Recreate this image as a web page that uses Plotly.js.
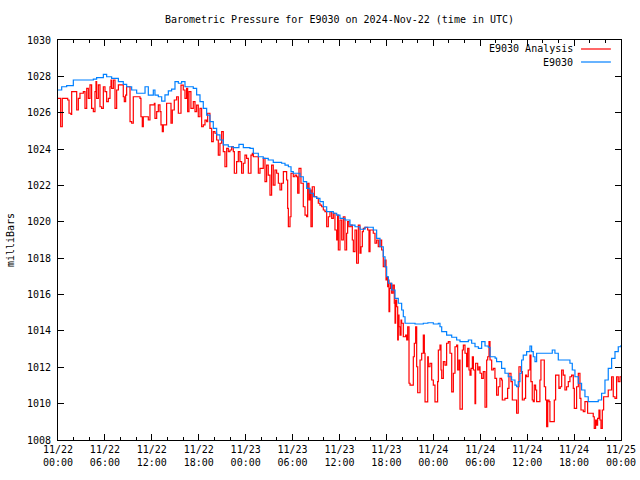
<!DOCTYPE html>
<html>
<head>
<meta charset="utf-8">
<script src="https://cdn.plot.ly/plotly-3.0.1.min.js"></script>
<style>html,body{margin:0;padding:0;background:#fff;}#chart{width:640px;height:480px;}</style>
</head>
<body>
<div id="chart"></div>
<script>
// Start of the time axis (UTC)
const startTime = '2024-11-22T00:00:00Z';
const endTime = '2024-11-25T00:00:00Z';

// E9030 Analysis (red): hours since start, pressure in mbar
const analysisHours = [0.0,0.34,0.55,1.24,1.41,1.66,1.75,2.26,2.39,2.6,2.81,3.24,3.45,3.67,3.88,4.09,4.3,4.52,4.73,4.86,4.94,5.16,5.37,5.58,5.8,6.01,6.22,6.44,6.65,6.78,6.86,7.08,7.29,7.5,7.72,8.14,8.35,8.48,8.65,8.78,9.08,9.21,9.42,9.63,10.49,10.61,10.78,10.91,11.34,11.55,11.76,12.32,12.4,12.62,12.83,13.04,13.17,13.34,13.47,13.68,13.89,14.32,14.45,14.62,14.87,15.17,15.39,15.6,15.73,16.02,16.24,16.45,16.58,16.75,17.0,17.3,17.52,17.73,17.94,18.16,18.37,18.58,18.8,19.01,19.14,19.43,19.65,19.86,20.07,20.29,20.5,20.71,20.93,21.14,21.35,21.57,21.78,21.99,22.21,22.42,22.55,22.84,23.06,23.27,23.48,23.7,23.91,24.12,24.34,24.68,24.85,24.98,25.4,25.62,25.83,26.25,26.47,26.68,26.89,27.11,27.32,27.53,27.75,27.96,28.18,28.39,28.6,28.82,29.03,29.24,29.37,29.46,29.67,29.8,30.09,30.31,30.52,30.65,30.82,31.07,31.25,31.37,31.59,31.8,31.93,32.1,32.23,32.35,32.52,32.78,33.08,33.29,33.5,33.72,33.93,34.14,34.36,34.57,34.78,35.0,35.21,35.42,35.64,35.76,35.85,36.06,36.28,36.49,36.7,36.91,37.04,37.21,37.47,37.64,37.77,37.98,38.19,38.41,38.62,38.75,38.92,39.05,39.26,39.6,39.77,39.9,40.11,40.32,40.54,40.75,40.96,41.18,41.39,41.6,41.82,41.95,42.08,42.16,42.25,42.33,42.42,42.54,42.67,42.84,43.01,43.1,43.18,43.31,43.44,43.52,43.61,43.74,43.87,43.95,44.16,44.46,44.59,44.72,44.89,45.02,45.23,45.44,45.57,45.74,45.87,46.0,46.17,46.3,46.51,46.72,46.85,46.94,47.15,47.28,47.36,47.57,47.79,48.0,48.21,48.43,48.55,48.64,48.85,48.98,49.07,49.28,49.49,49.7,49.92,50.13,50.35,50.56,50.77,50.98,51.11,51.28,51.41,51.54,51.71,51.84,52.05,52.26,52.39,52.56,52.69,52.82,52.99,53.12,53.33,53.41,53.67,53.84,53.97,54.18,54.39,54.61,54.82,54.95,55.12,55.25,55.46,55.67,55.88,56.09,56.31,56.52,56.73,56.82,57.16,57.5,57.67,57.93,58.1,58.44,58.65,58.86,58.95,59.2,59.38,59.63,59.8,59.93,60.14,60.36,60.48,60.65,60.78,60.91,61.08,61.21,61.42,61.63,61.76,62.06,62.19,62.36,62.49,62.63,62.8,62.91,63.34,63.47,63.64,63.89,64.06,64.23,64.41,64.62,64.83,65.04,65.26,65.47,65.68,65.9,66.03,66.2,66.32,66.54,66.75,66.88,67.18,67.39,67.6,67.73,68.45,68.58,68.75,68.88,69.01,69.18,69.31,69.44,69.61,69.78,70.16,70.37,70.59,70.8,71.01,71.23,71.44,71.65,71.87,72.0];
const analysisMbar = [1026.79,1025.23,1026.79,1026.7,1025.97,1025.91,1027.16,1027.16,1026.15,1026.79,1027.07,1027.16,1026.24,1027.34,1026.79,1027.53,1026.24,1026.06,1027.16,1027.71,1026.79,1027.53,1026.33,1026.24,1027.43,1027.16,1026.61,1026.79,1027.43,1027.8,1027.34,1027.8,1026.24,1027.25,1027.53,1027.53,1026.88,1026.61,1026.97,1027.43,1027.43,1025.51,1025.42,1026.88,1026.79,1025.78,1025.23,1025.78,1025.78,1025.6,1026.43,1026.52,1025.69,1026.06,1026.43,1026.06,1025.33,1024.96,1025.33,1025.33,1026.52,1026.52,1025.42,1026.15,1026.7,1026.88,1025.97,1025.97,1027.52,1027.25,1026.79,1027.34,1026.06,1027.16,1026.24,1026.61,1026.06,1026.42,1025.78,1026.24,1025.23,1025.33,1025.6,1025.51,1025.97,1025.14,1024.41,1024.96,1024.87,1024.5,1023.67,1024.32,1024.96,1023.86,1023.03,1024.04,1023.86,1023.95,1024.13,1023.86,1022.67,1023.31,1023.86,1023.31,1022.67,1023.22,1023.67,1023.49,1022.67,1023.67,1023.77,1023.58,1023.58,1022.67,1022.94,1023.49,1022.21,1023.12,1022.57,1021.47,1023.12,1022.02,1022.85,1022.67,1022.12,1021.75,1022.12,1022.76,1022.76,1022.3,1020.74,1019.73,1020.28,1022.67,1022.48,1022.57,1022.48,1021.57,1022.94,1022.12,1022.12,1020.83,1020.37,1020.28,1022.12,1021.2,1021.75,1019.73,1021.93,1021.38,1021.29,1021.02,1020.92,1020.83,1020.65,1020.56,1019.73,1020.28,1020.56,1020.19,1020.47,1019.55,1019.0,1020.37,1018.45,1020.1,1019.0,1020.28,1018.45,1019.37,1020.01,1019.73,1019.82,1019.0,1018.36,1019.55,1017.72,1019.82,1018.27,1018.63,1019.46,1019.64,1019.7,1019.55,1018.36,1019.55,1019.55,1019.37,1018.82,1019.0,1018.63,1019.0,1018.45,1017.53,1017.9,1016.8,1016.98,1016.43,1016.8,1015.06,1016.34,1016.62,1016.07,1016.52,1015.52,1014.42,1015.7,1015.33,1013.5,1014.87,1014.23,1013.77,1014.6,1014.42,1013.68,1013.77,1013.5,1014.23,1011.12,1011.02,1011.02,1012.58,1013.32,1014.23,1012.03,1010.6,1010.6,1012.4,1012.77,1013.77,1012.77,1010.1,1010.1,1012.58,1012.03,1012.22,1011.3,1011.02,1010.1,1010.1,1011.21,1012.95,1013.22,1011.85,1011.39,1012.31,1012.12,1013.32,1013.41,1012.77,1010.65,1011.67,1013.13,1013.22,1011.85,1012.4,1009.7,1009.7,1012.95,1013.22,1012.77,1012.03,1013.04,1011.85,1011.57,1011.94,1012.58,1011.85,1010.0,1012.22,1011.85,1012.03,1011.67,1011.39,1011.76,1009.8,1012.4,1012.58,1013.41,1012.4,1011.85,1011.94,1011.39,1010.47,1010.93,1011.39,1011.3,1010.2,1010.29,1010.84,1011.67,1011.21,1010.2,1010.2,1009.47,1010.93,1012.03,1011.76,1010.2,1010.29,1011.57,1011.48,1011.85,1012.67,1011.21,1010.2,1010.11,1011.02,1010.75,1010.11,1010.11,1011.3,1012.4,1012.4,1010.93,1010.2,1008.73,1010.2,1010.11,1009.01,1009.01,1010.2,1011.57,1011.57,1010.84,1010.93,1011.85,1011.57,1010.75,1010.93,1011.21,1011.48,1011.57,1010.84,1009.74,1009.74,1010.93,1011.67,1010.29,1009.65,1009.56,1010.11,1010.11,1009.47,1009.28,1008.64,1009.1,1008.82,1009.19,1009.65,1009.1,1008.64,1009.65,1010.38,1010.38,1010.75,1010.75,1011.48,1010.38,1010.29,1011.48,1011.21,1011.48,1011.48];

// E9030 observations (blue): hours since start, pressure in mbar
const obsHours = [0.0,0.47,1.11,1.96,3.67,4.52,4.94,5.8,6.22,6.86,7.72,8.35,8.78,9.42,10.06,10.7,11.13,11.55,12.19,12.4,12.83,13.26,13.68,14.11,14.53,14.96,15.39,15.81,16.24,16.88,17.3,17.73,18.16,18.58,19.01,19.43,19.86,20.29,20.71,21.14,21.78,22.42,23.14,23.7,24.55,24.98,25.62,26.25,26.89,27.53,28.6,29.03,29.46,29.8,30.09,30.95,31.37,31.8,32.23,32.65,33.08,33.5,33.93,34.36,35.21,35.64,36.06,36.7,37.34,37.98,38.62,39.26,40.32,40.75,41.18,41.6,41.82,42.03,42.25,42.67,43.1,43.52,43.95,44.16,44.38,45.66,46.72,47.3,48.0,48.64,48.85,49.07,49.7,50.35,50.98,51.41,52.48,52.9,53.33,53.76,54.18,54.61,55.03,55.25,55.9,56.09,56.73,57.16,57.58,58.01,58.44,58.65,58.86,59.08,59.29,59.5,59.93,60.36,60.57,60.78,61.0,61.21,62.91,63.21,63.55,63.98,65.04,65.47,65.77,66.11,66.54,66.96,67.39,67.81,68.67,69.09,69.52,69.95,70.37,70.8,71.23,71.65,72.0];
const obsMbar = [1027.25,1027.43,1027.49,1027.8,1027.8,1027.85,1027.93,1028.11,1027.98,1027.89,1027.71,1027.56,1027.43,1027.25,1027.07,1027.07,1027.43,1026.97,1027.25,1026.97,1026.88,1026.64,1026.98,1027.2,1027.3,1027.71,1027.62,1027.71,1027.43,1027.43,1027.34,1026.98,1026.61,1026.24,1025.87,1025.51,1025.14,1024.78,1024.5,1024.23,1024.13,1024.08,1024.26,1024.08,1024.04,1023.77,1023.58,1023.49,1023.4,1023.27,1023.22,1023.12,1023.03,1022.76,1022.67,1022.48,1022.21,1021.84,1021.57,1021.38,1021.29,1021.11,1020.83,1020.56,1020.47,1020.37,1020.19,1020.1,1019.82,1019.73,1019.59,1019.7,1019.55,1019.09,1018.63,1018.08,1017.53,1016.98,1016.62,1016.25,1015.79,1015.52,1015.15,1014.78,1014.42,1014.38,1014.42,1014.45,1014.38,1014.42,1014.23,1013.96,1013.77,1013.65,1013.5,1013.41,1013.5,1013.32,1013.13,1013.04,1013.41,1013.17,1013.1,1012.58,1012.5,1012.31,1011.94,1011.67,1011.48,1011.3,1011.02,1010.93,1011.21,1011.67,1012.4,1012.67,1012.86,1013.17,1012.86,1012.58,1012.31,1012.77,1012.77,1012.95,1012.77,1012.4,1012.4,1012.22,1011.85,1011.48,1011.12,1010.75,1010.38,1010.11,1010.11,1010.2,1010.57,1011.3,1011.94,1012.49,1012.86,1013.13,1013.22];

// Axis tick values
const yTicks = [1008,1010,1012,1014,1016,1018,1020,1022,1024,1026,1028,1030];

const t0 = Date.parse(startTime);
function toDate(h) {
  return new Date(t0 + h * 3600000).toISOString().replace('T', ' ').slice(0, 19);
}

const FONT = 'DejaVu Sans Mono, monospace';

const traces = [
  {
    name: 'E9030 Analysis', x: analysisHours.map(toDate), y: analysisMbar,
    type: 'scatter', mode: 'lines', line: {color: '#ff0000', width: 1.2, shape: 'hv'}, showlegend: false
  },
  {
    name: 'E9030', x: obsHours.map(toDate), y: obsMbar,
    type: 'scatter', mode: 'lines', line: {color: '#0080ff', width: 1.2, shape: 'hv'}, showlegend: false
  }
];

const layout = {
  width: 640, height: 480,
  margin: {l: 58, r: 19, t: 40, b: 40},
  paper_bgcolor: '#ffffff', plot_bgcolor: '#ffffff',
  font: {family: FONT, size: 10, color: '#000'},
  title: {text: 'Barometric Pressure for E9030 on 2024-Nov-22 (time in UTC)', font: {family: FONT, size: 10, color: '#000'},
          x: 0.5, xref: 'paper', xanchor: 'center', y: 1 - 19 / 480, yref: 'container', yanchor: 'middle'},
  xaxis: {
    type: 'date', range: [toDate(0), toDate(72)],
    dtick: 6 * 3600000, tick0: toDate(0), tickformat: '%m/%d<br>%H:%M',
    ticks: 'inside', ticklen: 6, tickcolor: '#000', tickwidth: 1,
    minor: {dtick: 2 * 3600000, ticks: 'inside', ticklen: 3, tickcolor: '#000', showgrid: false},
    showline: true, linecolor: '#000', linewidth: 1, mirror: 'allticks',
    showgrid: false, zeroline: false, tickfont: {family: FONT, size: 10, color: '#000'}
  },
  yaxis: {
    range: [1008, 1030], tickvals: yTicks, ticktext: yTicks.map(String),
    ticks: 'inside', ticklen: 6, tickcolor: '#000', tickwidth: 1,
    showline: true, linecolor: '#000', linewidth: 1, mirror: 'allticks',
    showgrid: false, zeroline: false, tickfont: {family: FONT, size: 10, color: '#000'},
    ticklabelstandoff: 4,
    title: {text: 'milliBars', font: {family: FONT, size: 10, color: '#000'}, standoff: 10}
  },
  annotations: [
    {xref: 'paper', yref: 'paper', x: 0.918, y: 0.9775, xanchor: 'right', yanchor: 'middle', showarrow: false,
     text: 'E9030 Analysis', font: {family: FONT, size: 10, color: '#000'}},
    {xref: 'paper', yref: 'paper', x: 0.918, y: 0.945, xanchor: 'right', yanchor: 'middle', showarrow: false,
     text: 'E9030', font: {family: FONT, size: 10, color: '#000'}}
  ],
  shapes: [
    {type: 'line', xref: 'paper', yref: 'paper', x0: 0.929, x1: 0.982, y0: 0.9775, y1: 0.9775, line: {color: '#ff0000', width: 1.2}},
    {type: 'line', xref: 'paper', yref: 'paper', x0: 0.929, x1: 0.982, y0: 0.945, y1: 0.945, line: {color: '#0080ff', width: 1.2}}
  ]
};

Plotly.newPlot('chart', traces, layout, {staticPlot: true, displayModeBar: false});
</script>
</body>
</html>
